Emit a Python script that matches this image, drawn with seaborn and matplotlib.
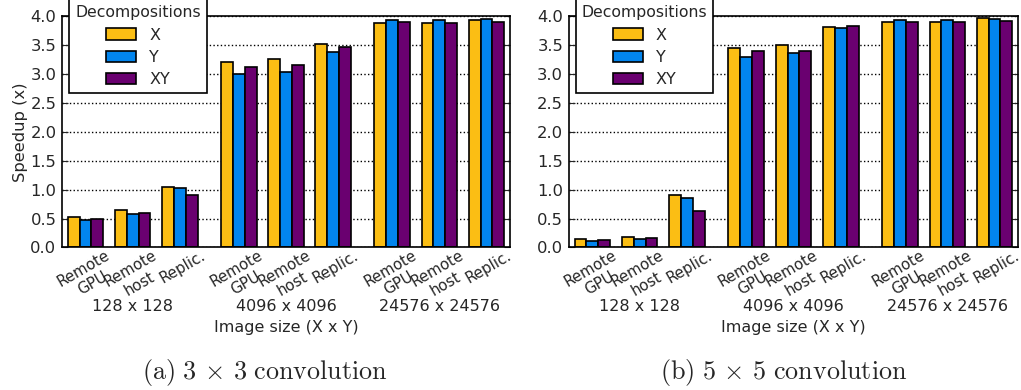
import numpy as np
import pandas as pd
import matplotlib
matplotlib.use("Agg")
import matplotlib.pyplot as plt
from matplotlib.patches import Patch
import seaborn as sns

# Image sizes, data layouts and decompositions
sizes = ["128 x 128", "4096 x 4096", "24576 x 24576"]
layouts = ["Remote\nGPU", "Remote\nhost", "Replic."]
decomps = ["X", "Y", "XY"]

# Speedups, ordered size-major then layout (Remote GPU, Remote host, Replic.)
conv3_x = [0.52, 0.65, 1.04, 3.20, 3.25, 3.52, 3.88, 3.88, 3.93]
conv3_y = [0.48, 0.575, 1.02, 2.99, 3.03, 3.38, 3.93, 3.93, 3.95]
conv3_xy = [0.49, 0.59, 0.90, 3.115, 3.15, 3.47, 3.89, 3.88, 3.90]

conv5_x = [0.15, 0.175, 0.90, 3.44, 3.50, 3.81, 3.90, 3.90, 3.965]
conv5_y = [0.115, 0.145, 0.86, 3.30, 3.36, 3.79, 3.93, 3.935, 3.945]
conv5_xy = [0.127, 0.16, 0.63, 3.39, 3.40, 3.82, 3.90, 3.90, 3.91]

captions = [r"$\mathrm{(a)}\ 3\,\times\,3\ \mathrm{convolution}$",
            r"$\mathrm{(b)}\ 5\,\times\,5\ \mathrm{convolution}$"]

colors = {"X": "#FBBE14", "Y": "#0285EE", "XY": "#6A0070"}

GROUP_STEP = 13
LAYOUT_STEP = 4
LABEL_NUDGE = 0.2  # rotated labels sit slightly right of the bar-group centre


def build_frame(xs, ys, xys):
    rows = []
    for dec, vals in zip(decomps, (xs, ys, xys)):
        for i, v in enumerate(vals):
            g, l = divmod(i, len(layouts))
            rows.append({"size": sizes[g], "layout": layouts[l],
                         "pos": g * GROUP_STEP + l * LAYOUT_STEP + 1.5,
                         "Decompositions": dec, "speedup": v})
    return pd.DataFrame(rows)


sns.set_style("white")
plt.rcParams["font.family"] = ["DejaVu Sans"]
plt.rcParams["mathtext.fontset"] = "cm"

fig = plt.figure(figsize=(10.21, 3.9), dpi=100)
ax_l = fig.add_axes([0.0607, 0.3654, 0.4388, 0.5936])
ax_r = fig.add_axes([0.5570, 0.3654, 0.4403, 0.5936])

frames = [build_frame(conv3_x, conv3_y, conv3_xy),
          build_frame(conv5_x, conv5_y, conv5_xy)]

for k, (ax, df) in enumerate(zip([ax_l, ax_r], frames)):
    sns.barplot(data=df, x="pos", y="speedup", hue="Decompositions",
                hue_order=decomps, palette=colors, native_scale=True,
                width=0.75, saturation=1, edgecolor="black", linewidth=1.2,
                legend=False, ax=ax, zorder=2)
    ax.set_xlim(-0.5, 37.5)
    ax.set_ylim(0, 4.0)
    ax.set_yticks(np.arange(0, 4.01, 0.5))
    ax.set_yticklabels([f"{t:.1f}" for t in np.arange(0, 4.01, 0.5)],
                       fontsize=11.8)
    ax.set_axisbelow(True)
    ax.yaxis.grid(True, linestyle=":", color="black", linewidth=1.0)
    ax.xaxis.grid(False)

    tick_pos = np.array(sorted(df["pos"].unique())) + LABEL_NUDGE
    ax.set_xticks(tick_pos)
    ax.set_xticklabels(layouts * len(sizes), rotation=30, ha="center",
                       multialignment="center", fontsize=10.8)
    ax.tick_params(axis="x", length=0, pad=0)
    ax.tick_params(axis="y", direction="in", length=4, right=True,
                   left=True, pad=4)
    for sp in ax.spines.values():
        sp.set_visible(True)
        sp.set_color("black")
        sp.set_linewidth(1.2)

    # Image size labels centred below each group of bars
    for g, s in enumerate(sizes):
        centre = g * GROUP_STEP + (2 * LAYOUT_STEP + 3) / 2
        ax.text(centre, -0.255, s, transform=ax.get_xaxis_transform(),
                ha="center", va="center", fontsize=11.5)
    ax.text(0.5, -0.345, "Image size (X x Y)", transform=ax.transAxes,
            ha="center", va="center", fontsize=11.5)
    ax.set_xlabel("")
    ax.set_ylabel("")

    handles = [Patch(facecolor=colors[d], edgecolor="black", linewidth=1.2,
                     label=d) for d in decomps]
    leg = ax.legend(handles=handles, title="Decompositions",
                    loc="upper left", bbox_to_anchor=(0.0156, 1.072),
                    borderaxespad=0, fontsize=11.5, title_fontsize=11.3,
                    fancybox=False, frameon=True, handlelength=1.9,
                    handleheight=0.7, labelspacing=0.45, borderpad=0.38)
    leg.get_frame().set_edgecolor("black")
    leg.get_frame().set_linewidth(1.2)
    leg.get_frame().set_alpha(1)

ax_l.set_ylabel("Speedup (x)", fontsize=11.8, labelpad=2)

fig.text(0.260, 0.046, captions[0], ha="center", va="center", fontsize=18.8)
fig.text(0.768, 0.046, captions[1], ha="center", va="center", fontsize=18.8)

fig.savefig("out.png", dpi=100)
